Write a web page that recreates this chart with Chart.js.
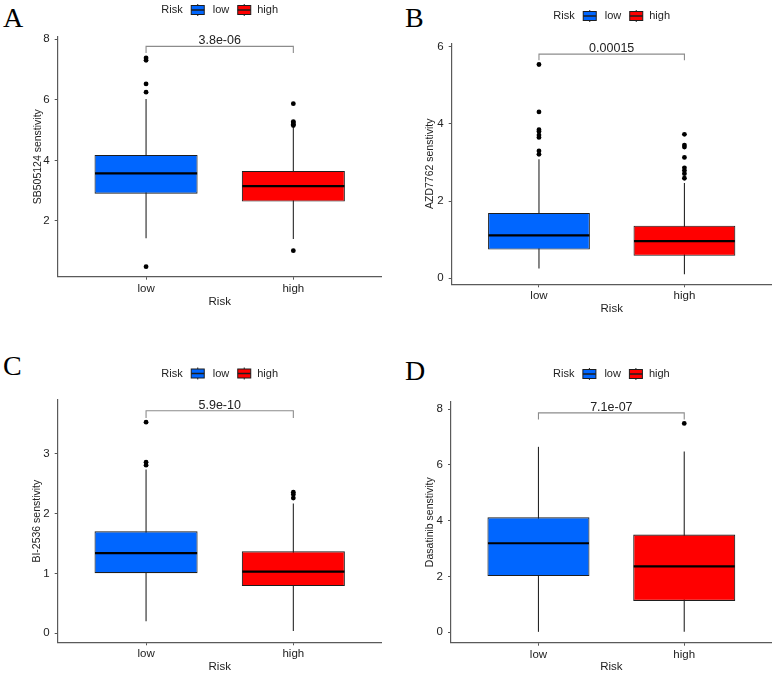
<!DOCTYPE html>
<html><head><meta charset="utf-8">
<script src="https://cdn.jsdelivr.net/npm/chart.js@4/dist/chart.umd.min.js"></script>
<style>
html,body{margin:0;padding:0;background:#fff;}
body{width:779px;height:673px;position:relative;overflow:hidden;}
canvas{position:absolute;}
.lbl{position:absolute;font-family:'Liberation Serif','Times New Roman',serif;font-size:28px;line-height:28px;color:#000;}
</style></head><body>
<div class="lbl" style="left:3px;top:3.6px">A</div>
<div class="lbl" style="left:405px;top:3.6px">B</div>
<div class="lbl" style="left:3px;top:351.6px">C</div>
<div class="lbl" style="left:405px;top:356.6px">D</div>
<canvas id="cA" width="390" height="330" style="left:0;top:0"></canvas>
<canvas id="cB" width="389" height="330" style="left:390px;top:0"></canvas>
<canvas id="cC" width="390" height="343" style="left:0;top:330px"></canvas>
<canvas id="cD" width="389" height="343" style="left:390px;top:330px"></canvas>
<script>
// ---------------- data ----------------
const categories = ['low', 'high'];
const legendTitle = 'Risk';
const xTitle = 'Risk';
// box stats: [lower whisker, Q1, median, Q3, upper whisker]
const A_yTitle = 'SB505124 senstivity';
const A_lowStats = [1.43, 2.90, 3.57, 4.18, 6.02];
const A_highStats = [1.40, 2.64, 3.15, 3.65, 5.08];
const A_lowOutliers = [7.38, 7.30, 6.52, 6.25, 0.49];
const A_highOutliers = [5.87, 5.28, 5.24, 5.19, 5.15, 1.02];
const A_yTicks = [2, 4, 6, 8];
const A_pValue = '3.8e-06';

const B_yTitle = 'AZD7762 senstivity';
const B_lowStats = [0.25, 0.74, 1.11, 1.69, 3.08];
const B_highStats = [0.10, 0.58, 0.96, 1.36, 2.47];
const B_lowOutliers = [5.54, 4.31, 3.85, 3.80, 3.71, 3.65, 3.30, 3.21];
const B_highOutliers = [3.73, 3.45, 3.40, 3.13, 2.86, 2.79, 2.71, 2.59];
const B_yTicks = [0, 2, 4, 6];
const B_pValue = '0.00015';

const C_yTitle = 'BI-2536 senstivity';
const C_lowStats = [0.20, 1.005, 1.34, 1.705, 2.74];
const C_highStats = [0.04, 0.79, 1.03, 1.37, 2.17];
const C_lowOutliers = [3.53, 2.86, 2.81];
const C_highOutliers = [2.36, 2.32, 2.26];
const C_yTicks = [0, 1, 2, 3];
const C_pValue = '5.9e-10';

const D_yTitle = 'Dasatinib senstivity';
const D_lowStats = [0.01, 2.01, 3.19, 4.12, 6.65];
const D_highStats = [0.01, 1.12, 2.36, 3.50, 6.48];
const D_lowOutliers = [];
const D_highOutliers = [7.49];
const D_yTicks = [0, 2, 4, 6, 8];
const D_pValue = '7.1e-07';

// ---------------- layout / style ----------------
const COLORS = ['#0066FF', '#FF0000'];
const FONT = "'Liberation Sans', Arial, sans-serif";
const panels = [
  {id:'cA', yTitle:A_yTitle, stats:[A_lowStats,A_highStats], outl:[A_lowOutliers,A_highOutliers], yTicks:A_yTicks, p:A_pValue,
   yMin:0.16, yMax:8.08, br:[7.76,7.54], w:390, h:330, area:{l:57.7,t:36.7,r:381.7,b:276.7}, legY:10, yTitleX:37.7, xTitleY:301.7},
  {id:'cB', yTitle:B_yTitle, stats:[B_lowStats,B_highStats], outl:[B_lowOutliers,B_highOutliers], yTicks:B_yTicks, p:B_pValue,
   yMin:-0.16, yMax:6.09, br:[5.81,5.65], w:389, h:330, area:{l:61.7,t:43.3,r:381.7,b:284.3}, legY:16, yTitleX:40, xTitleY:309.3},
  {id:'cC', yTitle:C_yTitle, stats:[C_lowStats,C_highStats], outl:[C_lowOutliers,C_highOutliers], yTicks:C_yTicks, p:C_pValue,
   yMin:-0.15, yMax:3.90, br:[3.72,3.60], w:390, h:343, area:{l:57.7,t:70,r:381.7,b:312.3}, legY:43.5, yTitleX:36.7, xTitleY:337.3},
  {id:'cD', yTitle:D_yTitle, stats:[D_lowStats,D_highStats], outl:[D_lowOutliers,D_highOutliers], yTicks:D_yTicks, p:D_pValue,
   yMin:-0.38, yMax:8.27, br:[7.87,7.63], w:389, h:343, area:{l:61,t:71.7,r:381.7,b:312.7}, legY:44, yTitleX:40, xTitleY:337.3}
];

const boxParts = {
  id: 'boxParts',
  beforeDatasetsDraw(chart, args, o) {
    const {ctx, scales:{x, y}} = chart;
    ctx.save();
    ctx.strokeStyle = '#262626'; ctx.lineWidth = 1.1;
    o.stats.forEach((s, i) => {
      const px = x.getPixelForValue(i + 1);
      ctx.beginPath();
      ctx.moveTo(px, y.getPixelForValue(s[0]));
      ctx.lineTo(px, y.getPixelForValue(s[4]));
      ctx.stroke();
    });
    ctx.restore();
  },
  afterDatasetsDraw(chart, args, o) {
    const {ctx, scales:{x, y}} = chart;
    const meta = chart.getDatasetMeta(0);
    ctx.save();
    ctx.strokeStyle = '#000'; ctx.lineWidth = 2.2;
    o.stats.forEach((s, i) => {
      const bar = meta.data[i];
      const half = bar.width / 2;
      const py = y.getPixelForValue(s[2]);
      ctx.beginPath();
      ctx.moveTo(bar.x - half + 0.5, py);
      ctx.lineTo(bar.x + half - 0.5, py);
      ctx.stroke();
    });
    ctx.restore();
  },
  afterDraw(chart, args, o) {
    const {ctx, scales:{x, y}, chartArea} = chart;
    ctx.save();
    // bracket
    const x1 = x.getPixelForValue(1), x2 = x.getPixelForValue(2);
    const yb = y.getPixelForValue(o.br[0]), yd = y.getPixelForValue(o.br[1]);
    ctx.strokeStyle = '#8c8c8c'; ctx.lineWidth = 1.1;
    ctx.beginPath();
    ctx.moveTo(x1, yd); ctx.lineTo(x1, yb); ctx.lineTo(x2, yb); ctx.lineTo(x2, yd);
    ctx.stroke();
    ctx.fillStyle = '#222';
    ctx.font = '12.5px ' + FONT;
    ctx.textAlign = 'center'; ctx.textBaseline = 'alphabetic';
    ctx.fillText(o.p, (x1 + x2) / 2, yb - 2);
    // legend
    ctx.font = '11px ' + FONT;
    const wRisk = ctx.measureText(legendTitle).width;
    const wLow = ctx.measureText(categories[0]).width;
    const wHigh = ctx.measureText(categories[1]).width;
    const iconW = 14, gap = 8;
    const total = wRisk + gap + iconW + gap + wLow + gap + iconW + 6 + wHigh;
    let cx = (chartArea.left + chartArea.right) / 2 - total / 2;
    const cy = o.legY;
    ctx.textAlign = 'left'; ctx.textBaseline = 'middle'; ctx.fillStyle = '#222';
    ctx.fillText(legendTitle, cx, cy); cx += wRisk + gap;
    const icon = (x0, col) => {
      ctx.strokeStyle = '#1e1e1e'; ctx.lineWidth = 1;
      ctx.beginPath(); ctx.moveTo(x0 + iconW/2, cy - 6); ctx.lineTo(x0 + iconW/2, cy + 6); ctx.stroke();
      ctx.fillStyle = col;
      ctx.fillRect(x0 + 0.5, cy - 4.5, iconW - 1, 9);
      ctx.strokeRect(x0 + 0.5, cy - 4.5, iconW - 1, 9);
      ctx.lineWidth = 1.5;
      ctx.beginPath(); ctx.moveTo(x0 + 0.5, cy); ctx.lineTo(x0 + iconW - 0.5, cy); ctx.stroke();
    };
    icon(cx, COLORS[0]); cx += iconW + gap;
    ctx.fillStyle = '#222'; ctx.fillText(categories[0], cx, cy); cx += wLow + gap;
    icon(cx, COLORS[1]); cx += iconW + 6;
    ctx.fillStyle = '#222'; ctx.fillText(categories[1], cx, cy);
    ctx.restore();
  }
};

panels.forEach(pn => {
  const a = pn.area;
  const tickFont = {family: FONT, size: 11.5};
  new Chart(document.getElementById(pn.id), {
    type: 'bar',
    data: {
      datasets: [
        {type:'bar', data: pn.stats.map((s, i) => ({x: i + 1, y: [s[1], s[3]]})),
         backgroundColor: COLORS, borderColor: '#1e1e1e', borderWidth: 1.1, borderSkipped: false,
         categoryPercentage: 1, barPercentage: 0.7},
        {type:'scatter', data: pn.outl.flatMap((arr, i) => arr.map(v => ({x: i + 1, y: v}))),
         pointRadius: 2.4, pointBackgroundColor: '#000', pointBorderWidth: 0, showLine: false}
      ]
    },
    options: {
      responsive: false, animation: false, events: [],
      layout: {padding: {left: 0, top: a.t, right: pn.w - a.r, bottom: 0}},
      plugins: {legend: {display: false}, tooltip: {enabled: false},
        boxParts: {stats: pn.stats, br: pn.br, p: pn.p, legY: pn.legY}},
      scales: {
        x: {type: 'linear', min: 0.4, max: 2.6, offset: false,
          afterBuildTicks: s => { s.ticks = categories.map((c, i) => ({value: i + 1})); },
          afterFit: s => { s.height = pn.h - a.b; },
          grid: {drawOnChartArea: false, drawTicks: true, tickLength: 3, color: '#555', tickColor: '#555', offset: false},
          border: {display: true, color: '#5a5a5a', width: 1.2},
          ticks: {callback: v => categories[Math.round(v) - 1], font: tickFont, color: '#222', padding: 2, maxRotation: 0, autoSkip: false},
          title: {display: true, text: xTitle, font: {family: FONT, size: 11.5}, color: '#222',
            padding: {top: 0, bottom: pn.h - 6.9 - pn.xTitleY}}
        },
        y: {type: 'linear', min: pn.yMin, max: pn.yMax, beginAtZero: false,
          afterBuildTicks: s => { s.ticks = pn.yTicks.map(v => ({value: v})); },
          afterFit: s => { s.width = a.l; },
          grid: {drawOnChartArea: false, drawTicks: true, tickLength: 3, color: '#555', tickColor: '#555'},
          border: {display: true, color: '#5a5a5a', width: 1.2},
          ticks: {callback: v => String(v), font: tickFont, color: '#222', padding: 5},
          title: {display: true, text: pn.yTitle, font: {family: FONT, size: 10.5}, color: '#222',
            padding: {top: pn.yTitleX - 6.3, bottom: 0}}
        }
      }
    },
    plugins: [boxParts]
  });
});
</script>
</body></html>
